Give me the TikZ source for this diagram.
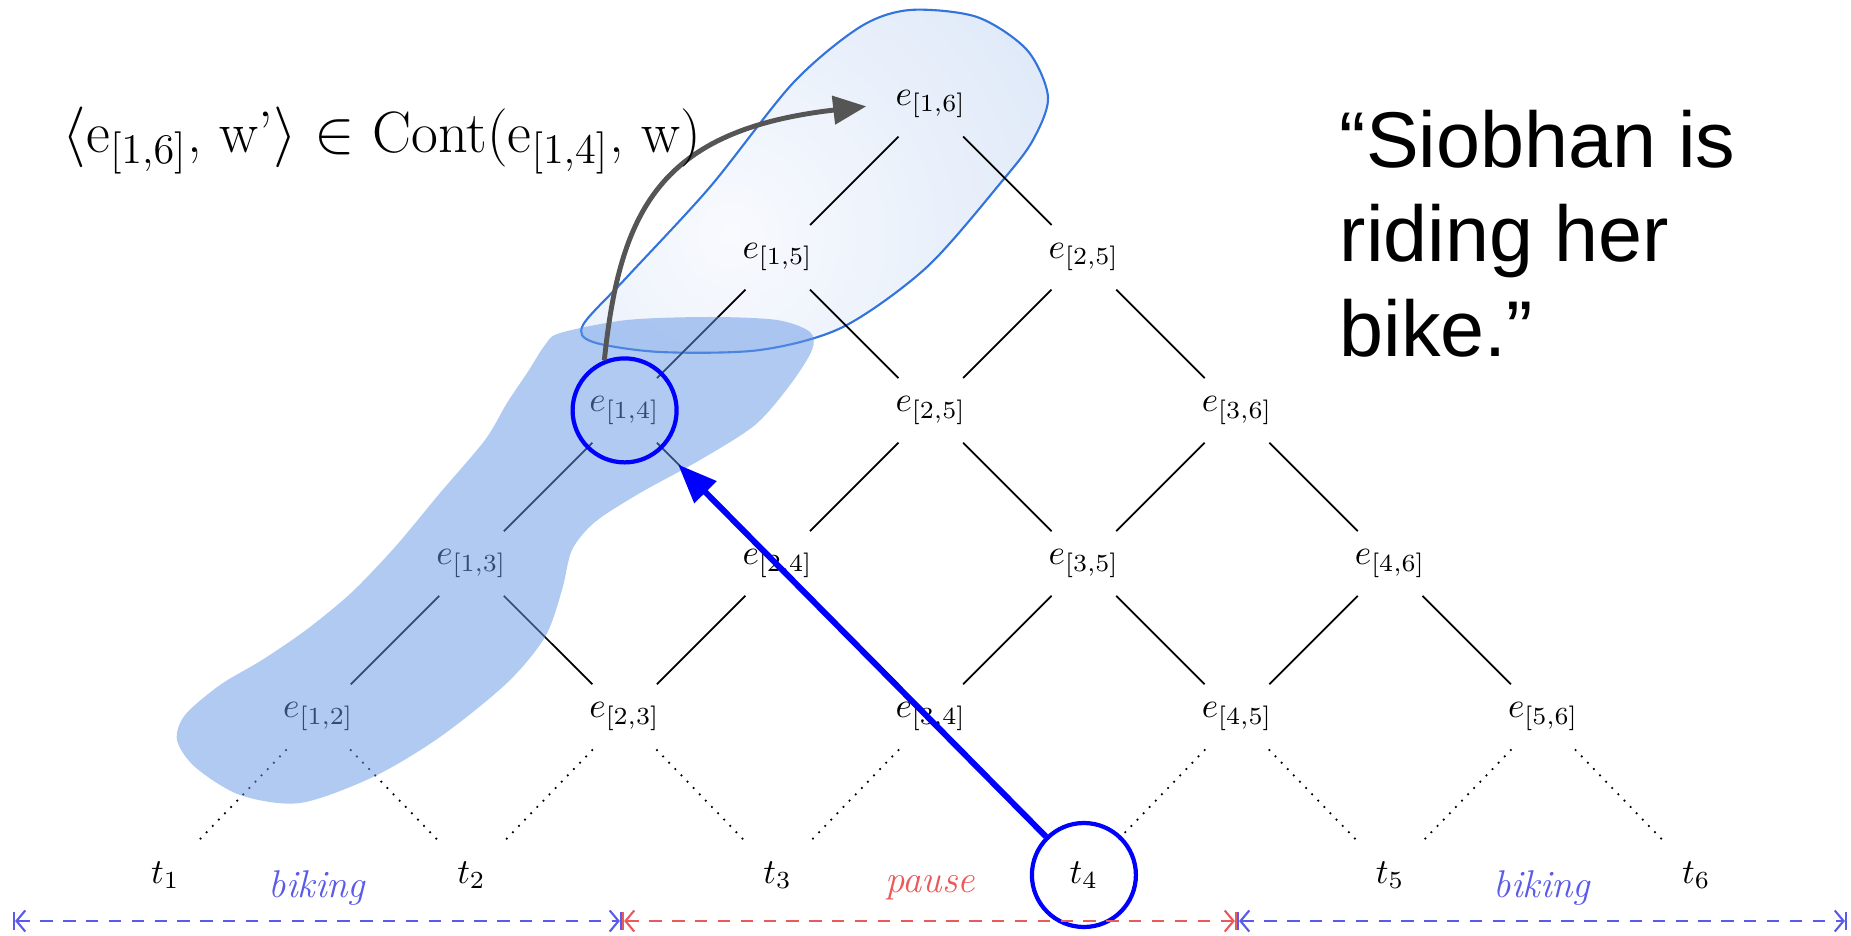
\documentclass[tikz,border=0pt]{standalone}
\usepackage{fontspec}
\usepackage{tikz}
\usetikzlibrary{arrows.meta,positioning}
\newfontfamily\slidefont{Liberation Sans}
\definecolor{SetBlue}{RGB}{100,150,230}
\definecolor{BlobEdge}{RGB}{50,115,220}
\definecolor{BlobFill}{RGB}{210,224,245}
\definecolor{BlobGlow}{RGB}{248,250,254}
\definecolor{BikeBlue}{RGB}{90,90,235}
\definecolor{PauseRed}{RGB}{235,90,90}
\definecolor{ArrowGray}{RGB}{85,85,85}

\begin{document}
\begin{tikzpicture}[
    lat/.style={circle, inner sep=0pt, minimum size=0.9cm},
    ring/.style={circle, draw=blue, line width=1.2pt, minimum size=1.04cm, inner sep=0pt},
    span/.style={dash pattern=on 3.5pt off 3pt, line width=0.6pt, |<->|, >={Straight Barb[length=2.5pt,width=6pt]}},
    activity/.style={font=\fontsize{11}{13}\selectfont\itshape}
]
    \useasboundingbox (0,0) rectangle (18.51,9.35);

    % Continuation region
    \draw [draw=BlobEdge, line width=0.6pt, fill=BlobFill,
           path picture={\shade [inner color=BlobGlow, outer color=BlobFill] (7.3,7.0) circle (5.6cm);}]
        plot [smooth cycle] coordinates {(8.60,9.08) (9.10,9.25) (9.77,9.18) (10.27,8.85) (10.48,8.38) (10.33,7.95) (10.03,7.55) (9.27,6.68) (8.43,6.08) (7.60,5.85) (6.60,5.83) (5.93,5.93) (5.83,6.10) (6.27,6.58) (7.10,7.48) (7.93,8.52)};

    % Time points
    \node [lat] (t1) at (1.653,0.6) {$t_1$};
    \node [lat] (t2) at (4.715,0.6) {$t_2$};
    \node [lat] (t3) at (7.777,0.6) {$t_3$};
    \node [lat] (t4) at (10.839,0.6) {$t_4$};
    \node [lat] (t5) at (13.901,0.6) {$t_5$};
    \node [lat] (t6) at (16.963,0.6) {$t_6$};

    % Events
    \node [lat] (e12) at (3.184,2.184) {$e_{[1,2]}$};
    \node [lat] (e23) at (6.246,2.184) {$e_{[2,3]}$};
    \node [lat] (e34) at (9.308,2.184) {$e_{[3,4]}$};
    \node [lat] (e45) at (12.370,2.184) {$e_{[4,5]}$};
    \node [lat] (e56) at (15.432,2.184) {$e_{[5,6]}$};
    \node [lat] (e13) at (4.715,3.715) {$e_{[1,3]}$};
    \node [lat] (e24) at (7.777,3.715) {$e_{[2,4]}$};
    \node [lat] (e35) at (10.839,3.715) {$e_{[3,5]}$};
    \node [lat] (e46) at (13.901,3.715) {$e_{[4,6]}$};
    \node [lat] (e14) at (6.246,5.246) {$e_{[1,4]}$};
    \node [lat] (e25) at (9.308,5.246) {$e_{[2,5]}$};
    \node [lat] (e36) at (12.370,5.246) {$e_{[3,6]}$};
    \node [lat] (e15) at (7.777,6.777) {$e_{[1,5]}$};
    \node [lat] (e26) at (10.839,6.777) {$e_{[2,5]}$};
    \node [lat] (e16) at (9.308,8.308) {$e_{[1,6]}$};

    % Lattice edges
    \draw [line width=0.5pt] (e16) -- (e15);
    \draw [line width=0.5pt] (e16) -- (e26);
    \draw [line width=0.5pt] (e15) -- (e14);
    \draw [line width=0.5pt] (e15) -- (e25);
    \draw [line width=0.5pt] (e26) -- (e25);
    \draw [line width=0.5pt] (e26) -- (e36);
    \draw [line width=0.5pt] (e14) -- (e13);
    \draw [line width=0.5pt] (e14) -- (e24);
    \draw [line width=0.5pt] (e25) -- (e24);
    \draw [line width=0.5pt] (e25) -- (e35);
    \draw [line width=0.5pt] (e36) -- (e35);
    \draw [line width=0.5pt] (e36) -- (e46);
    \draw [line width=0.5pt] (e13) -- (e12);
    \draw [line width=0.5pt] (e13) -- (e23);
    \draw [line width=0.5pt] (e24) -- (e23);
    \draw [line width=0.5pt] (e24) -- (e34);
    \draw [line width=0.5pt] (e35) -- (e34);
    \draw [line width=0.5pt] (e35) -- (e45);
    \draw [line width=0.5pt] (e46) -- (e45);
    \draw [line width=0.5pt] (e46) -- (e56);
    \draw [dotted, line width=0.5pt] (e12) -- (t1);
    \draw [dotted, line width=0.5pt] (e12) -- (t2);
    \draw [dotted, line width=0.5pt] (e23) -- (t2);
    \draw [dotted, line width=0.5pt] (e23) -- (t3);
    \draw [dotted, line width=0.5pt] (e34) -- (t3);
    \draw [dotted, line width=0.5pt] (e34) -- (t4);
    \draw [dotted, line width=0.5pt] (e45) -- (t4);
    \draw [dotted, line width=0.5pt] (e45) -- (t5);
    \draw [dotted, line width=0.5pt] (e56) -- (t5);
    \draw [dotted, line width=0.5pt] (e56) -- (t6);

    % Event set
    \fill [SetBlue, fill opacity=0.5]
        plot [smooth cycle] coordinates {(5.60,6.02) (6.27,6.15) (7.10,6.18) (7.77,6.15) (8.10,6.03) (8.12,5.85) (7.90,5.50) (7.55,5.10) (7.00,4.75) (6.40,4.42) (5.95,4.13) (5.72,3.85) (5.62,3.45) (5.45,2.98) (5.07,2.52) (4.40,1.98) (3.73,1.58) (3.00,1.32) (2.40,1.40) (1.95,1.68) (1.77,1.95) (1.85,2.20) (2.20,2.50) (2.62,2.75) (3.06,3.05) (3.51,3.42) (3.95,3.88) (4.40,4.42) (4.85,4.95) (5.07,5.32) (5.29,5.65) (5.45,5.90)};

    % Highlights
    \node [ring] (c14) at (e14) {};
    \node [ring] (ct4) at (t4) {};
    \draw [-{Triangle[length=0.39cm,width=0.3cm]}, blue, line width=1.7pt, shorten >=0.22cm] (ct4) -- (c14);
    \draw [-{Triangle[length=0.33cm,width=0.28cm]}, ArrowGray, line width=1.4pt, shorten >=0.19cm]
        (c14.112) .. controls (6.2,7.25) and (6.6,8.05) .. (e16.west);

    % Texts
    \node [anchor=base west, inner sep=0pt] (cont) at (0.62,7.82)
        {\fontsize{16.6}{19}\selectfont $\langle$e$_{[1,6]}$, w’$\rangle$ $\in$ Cont(e$_{[1,4]}$, w)};
    \node [anchor=north west, inner sep=0pt, align=left, font=\slidefont\fontsize{22.5}{27}\selectfont] (quote) at (13.39,8.26)
        {“Siobhan is\\riding her\\bike.”};

    % Timeline
    \coordinate (s0) at (0.13,0.14);
    \coordinate (s1) at (6.22,0.14);
    \coordinate (s2) at (12.37,0.14);
    \coordinate (s3) at (18.47,0.14);
    \draw [span, BikeBlue] (s0) -- (s1);
    \draw [span, PauseRed] (s1) -- (s2);
    \draw [span, BikeBlue] (s2) -- (s3);
    \node [activity, text=BikeBlue] (bike1) at (3.17,0.47) {biking};
    \node [activity, text=PauseRed] (pause) at (9.30,0.47) {pause};
    \node [activity, text=BikeBlue] (bike2) at (15.42,0.47) {biking};
\end{tikzpicture}
\end{document}
